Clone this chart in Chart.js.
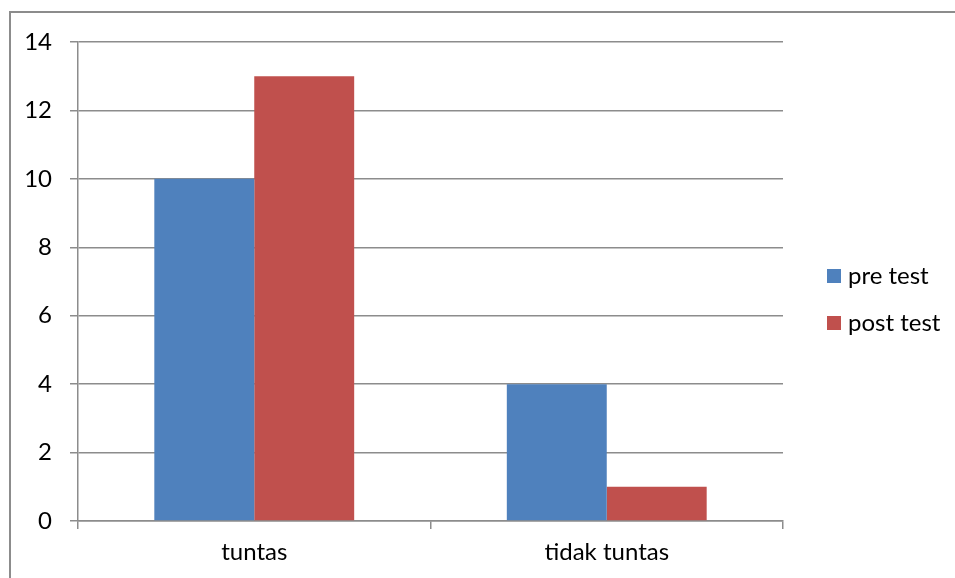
<!DOCTYPE html>
<html><head><meta charset="utf-8">
<script src="https://cdn.jsdelivr.net/npm/chart.js@4/dist/chart.umd.min.js"></script>
<style>html,body{margin:0;padding:0;background:#fff;}#wrap{position:relative;width:955px;height:578px;}</style>
</head><body><div id="wrap"><canvas id="c" width="955" height="578"></canvas></div>
<script>
const categories = ["tuntas", "tidak tuntas"];
const seriesNames = ["pre test", "post test"];
const preTest = [10, 4];
const postTest = [13, 1];
const yTicks = [0, 2, 4, 6, 8, 10, 12, 14];

const FONT = "Lato, 'Open Sans', sans-serif";
const frame = {
  id: 'frame',
  beforeDraw(chart) {
    const ctx = chart.ctx;
    ctx.save();
    ctx.strokeStyle = '#8c8c8c';
    ctx.lineWidth = 2;
    ctx.strokeRect(10, 12, 1100, 1100);
    ctx.restore();
  }
};
const legendPlugin = {
  id: 'customLegend',
  afterDraw(chart) {
    const ctx = chart.ctx;
    ctx.save();
    ctx.font = '24px ' + FONT;
    ctx.textBaseline = 'middle';
    ctx.fillStyle = '#000';
    chart.data.datasets.forEach((ds, i) => {
      const cy = 276 + i * 47;
      ctx.fillStyle = ds.backgroundColor;
      ctx.fillRect(827, cy - 7, 14, 14);
      ctx.fillStyle = '#000';
      ctx.fillText(ds.label, 848, cy);
    });
    ctx.restore();
  }
};

new Chart(document.getElementById('c'), {
  type: 'bar',
  data: {
    labels: categories,
    datasets: [
      { label: seriesNames[0], data: preTest, backgroundColor: '#4F81BD' },
      { label: seriesNames[1], data: postTest, backgroundColor: '#C0504D' }
    ]
  },
  options: {
    responsive: false,
    animation: false,
    devicePixelRatio: 1,
    layout: { padding: { left: 0, top: 42, right: 172, bottom: 0 } },
    plugins: { legend: { display: false }, tooltip: { enabled: false } },
    datasets: { bar: { categoryPercentage: 0.567, barPercentage: 1.0 } },
    scales: {
      x: {
        afterFit(s) { s.height = 57; },
        grid: { offset: true, drawOnChartArea: false, drawTicks: true, tickLength: 8, color: '#8c8c8c', lineWidth: 1.5 },
        border: { color: '#8c8c8c', width: 1.5 },
        ticks: { color: '#000', font: { family: FONT, size: 24 }, padding: 9 }
      },
      y: {
        min: 0, max: 14,
        afterFit(s) { s.width = 78; },
        afterBuildTicks(s) { s.ticks = yTicks.map(v => ({ value: v })); },
        grid: { color: '#8c8c8c', lineWidth: 1.5, tickLength: 8 },
        border: { color: '#8c8c8c', width: 1.5 },
        ticks: { color: '#000', font: { family: FONT, size: 24 }, padding: 18 }
      }
    }
  },
  plugins: [frame, legendPlugin]
});
</script></body></html>
